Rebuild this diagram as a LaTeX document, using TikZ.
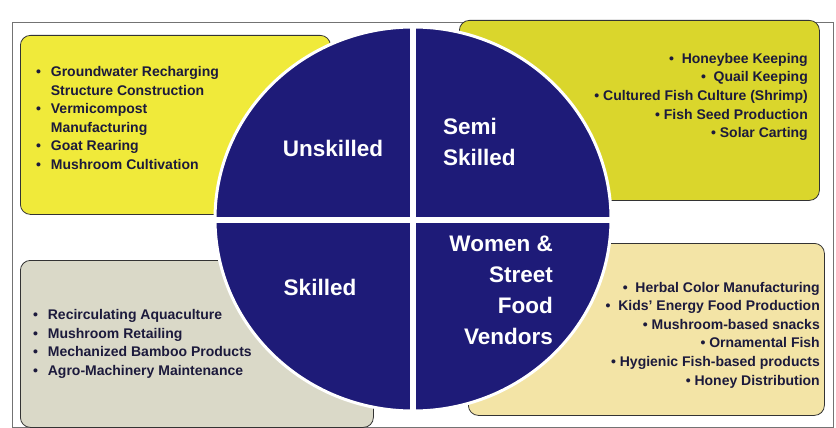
\documentclass[tikz,border=0pt]{standalone}
\usepackage{fontspec}
\setmainfont{Liberation Sans}
\usepackage{tikz}
\usetikzlibrary{positioning}
\definecolor{quadblue}{RGB}{30,27,120}
\definecolor{panelyellow}{RGB}{240,234,58}
\definecolor{panellime}{RGB}{218,214,44}
\definecolor{panelgrey}{RGB}{218,217,200}
\definecolor{panelcream}{RGB}{243,228,166}
\definecolor{itemtext}{RGB}{28,26,60}

\newcommand{\itm}{\makebox[1.05em][l]{\textbullet}}

\tikzset{
  panel/.style={draw=black!80, line width=0.8pt, rounded corners=10pt, inner sep=0pt},
  itemlist/.style={inner sep=0pt, text=itemtext, font=\bfseries\fontsize{14}{18.6}\selectfont},
  quadlabel/.style={inner sep=0pt, text=white, font=\bfseries\fontsize{22.5}{31}\selectfont},
}

\begin{document}
\begin{tikzpicture}[x=1pt,y=-1pt]
    \useasboundingbox (0,0) rectangle (836,428);
    \draw[black!55, line width=0.6pt] (12,22) rectangle (833,427);

    % panels behind the wheel
    \node[panel, fill=panelyellow, anchor=north west, minimum width=310pt, minimum height=179pt] (unskilledpanel) at (20,35) {};
    \node[panel, fill=panellime, anchor=north west, minimum width=360pt, minimum height=180pt] (semipanel) at (459,20) {};
    \node[panel, fill=panelgrey, anchor=north west, minimum width=353pt, minimum height=167pt] (skilledpanel) at (20,260) {};
    \node[panel, fill=panelcream, anchor=north west, minimum width=356pt, minimum height=172pt] (vendorpanel) at (468,243) {};

    % the wheel
    \fill[quadblue, draw=white, line width=3pt] (413,219) ellipse [x radius=198, y radius=192];
    \draw[white, line width=6pt] (413,26) -- (413,412);
    \draw[white, line width=6pt] (214,220) -- (612,220);

    \node[quadlabel] (unskilled) at (333,148) {Unskilled};
    \node[quadlabel, align=left, anchor=west] (semiskilled) at (443,142) {Semi\\Skilled};
    \node[quadlabel] (skilled) at (320,287) {Skilled};
    \node[quadlabel, align=right, anchor=east] (vendors) at (553,290) {Women \&\\Street\\Food\\Vendors};

    % item lists
    \node[itemlist, align=left, anchor=west] (unskilleditems) at (36,118) {%
        \itm Groundwater Recharging\\
        \hspace*{1.05em}Structure Construction\\
        \itm Vermicompost\\
        \hspace*{1.05em}Manufacturing\\
        \itm Goat Rearing\\
        \itm Mushroom Cultivation};
    \node[itemlist, align=right, anchor=east] (semiitems) at (808,97) {%
        \textbullet\ \ Honeybee Keeping\\
        \textbullet\ \ Quail Keeping\\
        \textbullet\ Cultured Fish Culture (Shrimp)\\
        \textbullet\ Fish Seed Production\\
        \textbullet\ Solar Carting};
    \node[itemlist, align=left, anchor=west] (skilleditems) at (33,344) {%
        \itm Recirculating Aquaculture\\
        \itm Mushroom Retailing\\
        \itm Mechanized Bamboo Products\\
        \itm Agro-Machinery Maintenance};
    \node[itemlist, align=right, anchor=east] (vendoritems) at (820,335) {%
        \textbullet\ \ Herbal Color Manufacturing\\
        \textbullet\ \ Kids' Energy Food Production\\
        \textbullet\ Mushroom-based snacks\\
        \textbullet\ Ornamental Fish\\
        \textbullet\ Hygienic Fish-based products\\
        \textbullet\ Honey Distribution};
\end{tikzpicture}
\end{document}
